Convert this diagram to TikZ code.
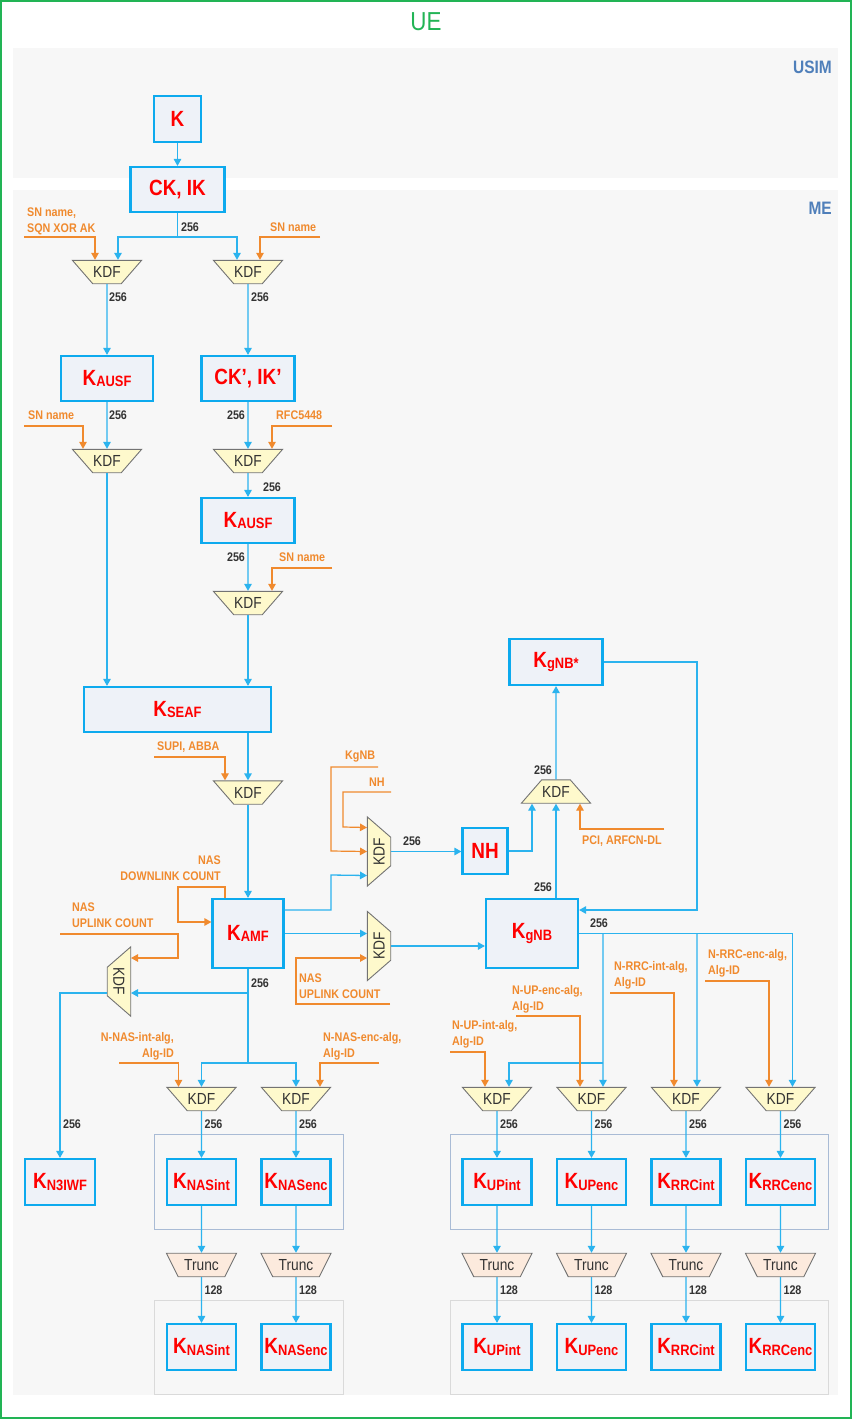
\documentclass[tikz,border=0pt]{standalone}
\usepackage{fontspec}
\setmainfont{Liberation Sans}[FakeStretch=0.86]
\usetikzlibrary{shapes.geometric,arrows.meta}

\definecolor{uegreen}{HTML}{22B455}
\definecolor{keycyan}{HTML}{0DAAEE}
\definecolor{wirecyan}{HTML}{2BB3EE}
\definecolor{keyfill}{HTML}{EEF2F8}
\definecolor{kdffill}{HTML}{FEF9CC}
\definecolor{truncfill}{HTML}{FCEADD}
\definecolor{inorange}{HTML}{F08A2E}
\definecolor{bandgray}{HTML}{F7F7F7}
\definecolor{bandblue}{HTML}{4F7FBA}
\definecolor{grpblue}{HTML}{A9BBD5}
\definecolor{grpgray}{HTML}{DADADA}
\definecolor{bitgray}{HTML}{333333}

\newcommand{\kname}[1]{K\raisebox{-1.5pt}{\fontsize{15}{15}\selectfont #1}}

\tikzset{
  key/.style={draw=keycyan,line width=2.2pt,fill=keyfill,text=red,inner sep=0pt,
    font=\fontsize{22}{22}\selectfont\bfseries},
  kdf/.style={trapezium,shape border rotate=180,trapezium angle=49,
    draw=black!55,line width=0.9pt,fill=kdffill,inner xsep=0.5pt,inner ysep=6.2pt,
    font=\fontsize{16}{16}\selectfont,text=bitgray},
  trunc/.style={kdf,trapezium angle=63.4,inner xsep=5.9pt,fill=truncfill},
  bits/.style={font=\fontsize{12.5}{12.5}\selectfont\bfseries,text=bitgray,inner sep=0pt},
  param/.style={font=\fontsize{12.5}{16}\selectfont\bfseries,text=inorange,inner sep=0pt,
    anchor=west,align=left},
  line/.style={draw=wirecyan,line width=1.3pt},
  wire/.style={line,-{Triangle[length=7pt,width=7.5pt]}},
  feed/.style={draw=inorange,line width=1.2pt,-{Triangle[length=7pt,width=7.5pt]}},
}

\begin{document}
\begin{tikzpicture}[x=1pt,y=-1pt]
    \useasboundingbox (0,0) rectangle (852,1419);
    \draw [uegreen,line width=1.6pt] (1,1) rectangle (851,1418);
    \node [text=uegreen,font=\fontsize{26}{26}\selectfont] (ue) at (426,22) {UE};
    \fill [bandgray] (13,48) rectangle (838,178);
    \fill [bandgray] (13,190) rectangle (838,1395);
    \begin{scope}[text=bandblue,font=\fontsize{18}{18}\selectfont\bfseries,inner sep=0pt]
    \node [anchor=east] (usim) at (832,67) {USIM};
    \node [anchor=east] (me) at (832,208) {ME};
    \end{scope}
    \draw [grpblue] (154,1134) rectangle (343,1229);
    \draw [grpblue] (450,1134) rectangle (828,1229);
    \draw [grpgray] (154,1300) rectangle (343,1394);
    \draw [grpgray] (450,1300) rectangle (828,1394);

    \node [key,minimum width=47pt,minimum height=46pt] (k) at (177.5,119) {K};
    \node [key,minimum width=94pt,minimum height=45pt] (ckik) at (177.5,189.5) {CK, IK};
    \node [kdf] (kdfa) at (107,272) {KDF};
    \node [kdf] (kdfb) at (248,272) {KDF};
    \node [key,minimum width=92pt,minimum height=45pt] (kausfa) at (107,378.5) {\kname{AUSF}};
    \node [key,minimum width=93pt,minimum height=45pt] (ckikp) at (248,378.5) {CK’, IK’};
    \node [kdf] (kdfc) at (107,461) {KDF};
    \node [kdf] (kdfd) at (248,461) {KDF};
    \node [key,minimum width=93pt,minimum height=45pt] (kausfb) at (248,520.5) {\kname{AUSF}};
    \node [kdf] (kdfe) at (248,603) {KDF};
    \node [key,minimum width=187pt,minimum height=45pt] (kseaf) at (177.5,709.5) {\kname{SEAF}};
    \node [kdf] (kdff) at (248,792.5) {KDF};
    \node [key,minimum width=71pt,minimum height=69pt] (kamf) at (248,933.5) {\kname{AMF}};
    \node [kdf,rotate=-90] (kdfg) at (119,981.5) {KDF};
    \node [kdf,rotate=90] (kdfh) at (379,851.5) {KDF};
    \node [kdf,rotate=90] (kdfi) at (379,946) {KDF};
    \node [key,minimum width=45pt,minimum height=46pt] (nh) at (485,851) {NH};
    \node [kdf,shape border rotate=0] (kdfj) at (556,791.5) {KDF};
    \node [key,minimum width=93pt,minimum height=46pt] (kgnbs) at (556,662) {\kname{gNB*}};
    \node [key,minimum width=92pt,minimum height=69pt] (kgnb) at (532,933.5) {\kname{gNB}};
    \node [key,minimum width=70pt,minimum height=46pt] (kniwf) at (60,1182) {\kname{N3IWF}};

    \draw [wire] (k) -- (ckik);
    \coordinate (ckfork) at (177.5,237);
    \draw [wire] (ckik.south) -- (ckfork) -| ([shift={(11,0)}]kdfa.north);
    \draw [wire] (ckfork) -| ([shift={(-11,0)}]kdfb.north);
    \node [bits] (b1) at (190,227) {256};
    \node [param] (pa) at (27,221) {SN name,\\SQN XOR AK};
    \coordinate (fa) at (24,237);
    \draw [feed] (fa) -| ([shift={(-12,0)}]kdfa.north);
    \node [param] (pb) at (270,227) {SN name};
    \coordinate (fb) at (320,237);
    \draw [feed] (fb) -| ([shift={(12,0)}]kdfb.north);

    \draw [wire] (kdfa.south) -- (kausfa.north);
    \node [bits] (b2) at (118,297) {256};
    \draw [wire] (kdfb.south) -- (ckikp.north);
    \node [bits] (b3) at (260,297) {256};
    \draw [wire] (kausfa.south) -- (kdfc.north);
    \node [bits] (b4) at (118,415) {256};
    \node [param] (pc) at (28,415) {SN name};
    \coordinate (fc) at (24,426);
    \draw [feed] (fc) -| ([shift={(-24,0)}]kdfc.north);
    \draw [wire] (ckikp.south) -- (kdfd.north);
    \node [bits] (b5) at (236,415) {256};
    \node [param] (pd) at (276,415) {RFC5448};
    \coordinate (fd) at (332,426);
    \draw [feed] (fd) -| ([shift={(24,0)}]kdfd.north);
    \draw [wire] (kdfd.south) -- (kausfb.north);
    \node [bits] (b6) at (272,487) {256};
    \draw [wire] (kausfb.south) -- (kdfe.north);
    \node [bits] (b7) at (236,557) {256};
    \node [param] (pe) at (279,557) {SN name};
    \coordinate (fe) at (332,568);
    \draw [feed] (fe) -| ([shift={(24,0)}]kdfe.north);
    \draw [wire] (kdfc.south) -- (kdfc.south |- kseaf.north);
    \draw [wire] (kdfe.south) -- (kdfe.south |- kseaf.north);
    \draw [wire] (kdff.north |- kseaf.south) -- (kdff.north);
    \node [param] (pf) at (157,747) {SUPI, ABBA};
    \coordinate (ff) at (154,757);
    \draw [feed] (ff) -| ([shift={(-23,0)}]kdff.north);
    \draw [wire] (kdff.south) -- (kdff.south |- kamf.north);

    \node [param,anchor=east,align=right] (pg) at (221,868) {NAS\\DOWNLINK COUNT};
    \draw [feed] ([shift={(-23,0)}]kamf.north) |- (178,887) |- ([shift={(0,-11.5)}]kamf.west);
    \node [param] (ph) at (72,915) {NAS\\UPLINK COUNT};
    \coordinate (fh) at (60,934);
    \draw [feed] (fh) -| (178,958) -- ([shift={(12,-23.5)}]kdfg.center);
    \coordinate (amfleft) at (248,993);
    \coordinate (amffork) at (248,1063);
    \draw [line] (kamf.south) -- (amffork);
    \draw [wire] (amfleft) -- ([shift={(12,11.5)}]kdfg.center);
    \node [bits] (b8) at (260,983) {256};
    \draw [wire] ([shift={(-12,11.5)}]kdfg.center) -| (kniwf.north);
    \node [bits] (b9) at (72,1124) {256};

    \node [param] (pi) at (345,757) {KgNB};
    \coordinate (fi) at (378,767);
    \draw [feed] (fi) -| (331,851) -- ([shift={(-12,0)}]kdfh.center);
    \node [param] (pj) at (369,782) {NH};
    \coordinate (fj) at (391,792);
    \draw [feed] (fj) -| (343,827) -- ([shift={(-12,-24)}]kdfh.center);
    \draw [wire] ([shift={(0,-23.5)}]kamf.east) -| (331,875) -- ([shift={(-12,24)}]kdfh.center);
    \draw [wire] ([shift={(12,0)}]kdfh.center) -- (kdfh.center -| nh.west);
    \node [bits] (b10) at (412,841) {256};
    \draw [wire] (kamf.east) -- ([shift={(-12,-12.5)}]kdfi.center);
    \node [param] (pk) at (299,986) {NAS\\UPLINK COUNT};
    \coordinate (fk) at (390,1004);
    \draw [feed] (fk) -| (296,958) -- ([shift={(-12,12)}]kdfi.center);
    \draw [wire] ([shift={(12,0)}]kdfi.center) -- (kdfi.center -| kgnb.west);

    \draw [wire] (nh.east) -| ([shift={(-24,0)}]kdfj.south);
    \draw [wire] (kdfj.south |- kgnb.north) -- (kdfj.south);
    \node [bits] (b11) at (543,887) {256};
    \node [param] (pl) at (582,841) {PCI, ARFCN-DL};
    \coordinate (fl) at (664,829);
    \draw [feed] (fl) -| ([shift={(24,0)}]kdfj.south);
    \draw [wire] (kdfj.north) -- (kgnbs.south);
    \node [bits] (b12) at (543,770) {256};
    \coordinate (back) at (697,910);
    \draw [wire] (kgnbs.east) -| (back) -- ([shift={(0,-23.5)}]kgnb.east);

    \foreach \x/\n/\s in {201.5/na/NASint,296/nb/NASenc,497/ua/UPint,591.5/ub/UPenc,686/ra/RRCint,780.5/rb/RRCenc}{
        \node [kdf] (kdf\n) at (\x,1099) {KDF};
        \node [key,minimum width=69pt,minimum height=46pt] (key\n) at (\x,1182) {\kname{\s}};
        \node [trunc] (trunc\n) at (\x,1265) {Trunc};
        \node [key,minimum width=69pt,minimum height=46pt] (cut\n) at (\x,1347) {\kname{\s}};
        \draw [wire] (kdf\n.south) -- (key\n.north);
        \draw [wire] (key\n.south) -- (trunc\n.north);
        \draw [wire] (trunc\n.south) -- (cut\n.north);
        \node [bits] (l\n) at (\x+12,1124) {256};
        \node [bits] (s\n) at (\x+12,1290) {128};
    }

    \draw [wire] (amffork) -| (kdfna.north);
    \draw [wire] (amffork) -| (kdfnb.north);
    \node [param,anchor=east,align=right] (pna) at (174,1046) {N-NAS-int-alg,\\Alg-ID};
    \coordinate (fna) at (119,1063);
    \draw [feed] (fna) -| ([shift={(-23,0)}]kdfna.north);
    \node [param] (pnb) at (323,1046) {N-NAS-enc-alg,\\Alg-ID};
    \coordinate (fnb) at (379,1063);
    \draw [feed] (fnb) -| ([shift={(24,0)}]kdfnb.north);

    \coordinate (gnbfork) at (603,933.5);
    \coordinate (gnbmid) at (697,933.5);
    \coordinate (gnblow) at (603,1063);
    \draw [wire] (kgnb.east) -| ([shift={(12,0)}]kdfrb.north);
    \draw [wire] (gnbfork) -- ([shift={(11.5,0)}]kdfub.north);
    \draw [wire] (gnbmid) -- ([shift={(11,0)}]kdfra.north);
    \draw [wire] (gnblow) -| ([shift={(12,0)}]kdfua.north);
    \node [bits] (b13) at (599,923) {256};
    \node [param] (pua) at (452,1034) {N-UP-int-alg,\\Alg-ID};
    \coordinate (fua) at (450,1052);
    \draw [feed] (fua) -| ([shift={(-12,0)}]kdfua.north);
    \node [param] (pub) at (512,999) {N-UP-enc-alg,\\Alg-ID};
    \coordinate (fub) at (516,1016);
    \draw [feed] (fub) -| ([shift={(-11.5,0)}]kdfub.north);
    \node [param] (pra) at (614,975) {N-RRC-int-alg,\\Alg-ID};
    \coordinate (fra) at (610,993);
    \draw [feed] (fra) -| ([shift={(-12,0)}]kdfra.north);
    \node [param] (prb) at (708,963) {N-RRC-enc-alg,\\Alg-ID};
    \coordinate (frb) at (705,981);
    \draw [feed] (frb) -| ([shift={(-11.5,0)}]kdfrb.north);
\end{tikzpicture}
\end{document}
